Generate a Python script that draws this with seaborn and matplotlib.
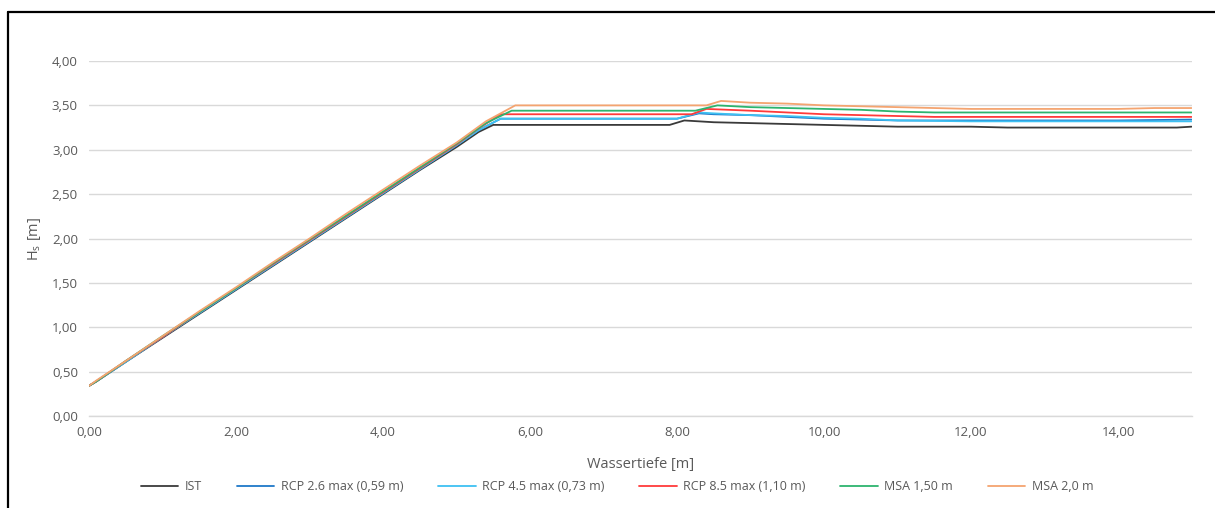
import matplotlib
matplotlib.use("Agg")
import matplotlib.pyplot as plt
import matplotlib.ticker as mticker
from matplotlib.lines import Line2D
import seaborn as sns
import pandas as pd

# Significant wave height Hs over water depth for each scenario
series_names = ["IST", "RCP 2.6 max (0,59 m)", "RCP 4.5 max (0,73 m)",
                "RCP 8.5 max (1,10 m)", "MSA 1,50 m", "MSA 2,0 m"]

rise_depth = [0.0, 0.1, 0.5, 1.0, 1.5, 2.0, 2.5, 3.0, 3.5, 4.0, 4.5, 5.0]

ist_depth = rise_depth + [5.3, 5.5, 7.9, 8.1, 8.5, 9.0, 9.5, 10.0, 10.5, 11.0, 12.0, 12.5, 13.0, 14.0, 14.8, 15.0]
ist_hs = [0.34, 0.39, 0.61, 0.88, 1.15, 1.42, 1.69, 1.96, 2.23, 2.50, 2.77, 3.03,
          3.20, 3.28, 3.28, 3.33, 3.31, 3.30, 3.29, 3.28, 3.27, 3.26, 3.26, 3.25, 3.25, 3.25, 3.25, 3.26]

rcp26_depth = rise_depth + [5.3, 5.6, 8.0, 8.3, 8.5, 9.0, 9.5, 10.0, 10.5, 11.0, 12.0, 13.0, 14.0, 15.0]
rcp26_hs = [0.34, 0.39, 0.61, 0.89, 1.16, 1.43, 1.70, 1.97, 2.24, 2.51, 2.78, 3.05,
            3.22, 3.35, 3.35, 3.41, 3.40, 3.39, 3.37, 3.35, 3.34, 3.33, 3.33, 3.33, 3.33, 3.34]

rcp45_depth = rise_depth + [5.3, 5.6, 8.0, 8.3, 8.5, 9.0, 9.5, 10.0, 10.5, 11.0, 12.0, 13.0, 14.0, 15.0]
rcp45_hs = [0.34, 0.39, 0.61, 0.89, 1.16, 1.43, 1.70, 1.97, 2.24, 2.51, 2.78, 3.05,
            3.22, 3.35, 3.35, 3.42, 3.41, 3.39, 3.38, 3.36, 3.35, 3.33, 3.32, 3.32, 3.32, 3.32]

rcp85_depth = rise_depth + [5.3, 5.6, 8.2, 8.4, 9.0, 9.5, 10.0, 10.5, 11.0, 11.5, 12.0, 13.0, 14.0, 15.0]
rcp85_hs = [0.34, 0.39, 0.62, 0.89, 1.17, 1.44, 1.71, 1.98, 2.25, 2.52, 2.79, 3.06,
            3.24, 3.40, 3.40, 3.46, 3.44, 3.42, 3.40, 3.39, 3.38, 3.37, 3.37, 3.37, 3.37, 3.37]

msa150_depth = rise_depth + [5.4, 5.75, 8.25, 8.55, 9.0, 9.5, 10.0, 10.5, 11.0, 11.5, 12.0, 13.0, 14.0, 15.0]
msa150_hs = [0.34, 0.39, 0.62, 0.90, 1.17, 1.44, 1.72, 1.99, 2.26, 2.53, 2.80, 3.07,
             3.30, 3.44, 3.44, 3.50, 3.48, 3.47, 3.46, 3.45, 3.43, 3.42, 3.42, 3.42, 3.42, 3.42]

msa200_depth = rise_depth + [5.4, 5.8, 8.4, 8.6, 9.0, 9.5, 10.0, 10.5, 11.0, 11.5, 12.0, 13.0, 14.0, 14.5, 15.0]
msa200_hs = [0.34, 0.40, 0.62, 0.90, 1.18, 1.45, 1.73, 2.00, 2.28, 2.55, 2.82, 3.08,
             3.32, 3.50, 3.50, 3.55, 3.53, 3.52, 3.50, 3.49, 3.48, 3.47, 3.46, 3.46, 3.46, 3.47, 3.47]

colors = ["#3A3A3A", "#1F78C8", "#3EC0F2", "#FF3A3A", "#2DB46E", "#F4A470"]

depths = [ist_depth, rcp26_depth, rcp45_depth, rcp85_depth, msa150_depth, msa200_depth]
heights = [ist_hs, rcp26_hs, rcp45_hs, rcp85_hs, msa150_hs, msa200_hs]

frames = []
for name, d, h in zip(series_names, depths, heights):
    frames.append(pd.DataFrame({"Wassertiefe": d, "Hs": h, "Szenario": name}))
df = pd.concat(frames, ignore_index=True)

sns.set_theme(style="white")
plt.rcParams["font.family"] = ["Open Sans", "DejaVu Sans"]

fig = plt.figure(figsize=(12.15, 5.08), dpi=100)
ax = fig.add_axes([89 / 1215, 1 - 416 / 508, (1191.5 - 89) / 1215, (416 - 61) / 508])

sns.lineplot(data=df, x="Wassertiefe", y="Hs", hue="Szenario", hue_order=series_names,
             palette=colors, estimator=None, sort=False, units="Szenario",
             linewidth=1.3, legend=False, ax=ax)

ax.set_xlim(0, 15)
ax.set_ylim(0, 4)
ax.xaxis.set_major_locator(mticker.MultipleLocator(2))
ax.yaxis.set_major_locator(mticker.MultipleLocator(0.5))
fmt = mticker.FuncFormatter(lambda v, p: f"{v:.2f}".replace(".", ","))
ax.xaxis.set_major_formatter(fmt)
ax.yaxis.set_major_formatter(fmt)

ax.grid(axis="y", color="#D9D9D9", linewidth=1.0)
ax.set_axisbelow(True)
for s in ["top", "right", "left"]:
    ax.spines[s].set_visible(False)
ax.spines["bottom"].set_color("#D9D9D9")
ax.spines["bottom"].set_linewidth(1.0)
ax.tick_params(axis="both", length=0, labelsize=9.5, colors="#595959", pad=8)
ax.tick_params(axis="x", pad=7)

ax.set_xlabel("Wassertiefe [m]", fontsize=10.5, color="#595959", labelpad=13)
ax.set_ylabel(r"H$_\mathregular{s}$ [m]", fontsize=10.5, color="#595959", labelpad=6)

handles = [Line2D([0], [0], color=c, linewidth=1.3) for c in colors]
fig.legend(handles, series_names, loc="center", bbox_to_anchor=(617 / 1215, 1 - 487 / 508),
           ncol=6, frameon=False, fontsize=9, labelcolor="#595959",
           handlelength=3.0, handletextpad=0.5, columnspacing=2.8)

# Outer frame line on left and top edges
fig.add_artist(Line2D([8 / 1215, 8 / 1215], [0, 1 - 11.5 / 508], transform=fig.transFigure,
                      color="black", linewidth=1.6))
fig.add_artist(Line2D([8 / 1215, 1], [1 - 11.5 / 508, 1 - 11.5 / 508], transform=fig.transFigure,
                      color="black", linewidth=1.6))

fig.savefig("out.png", dpi=100, facecolor="white")
